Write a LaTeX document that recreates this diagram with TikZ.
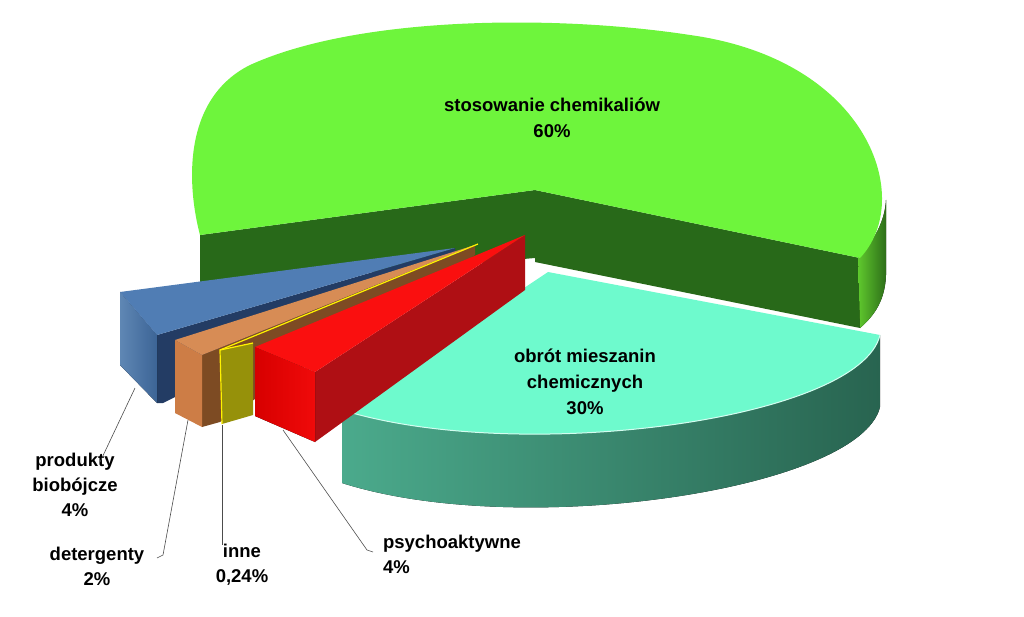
\documentclass[tikz,border=0pt]{standalone}
\usepackage{fontspec}
\setmainfont{Liberation Sans}
\definecolor{gtop}{RGB}{110,245,60}
\definecolor{gcut}{RGB}{40,105,25}
\definecolor{gside1}{RGB}{95,200,45}
\definecolor{gside2}{RGB}{45,110,25}
\definecolor{ttop}{RGB}{110,250,205}
\definecolor{tside1}{RGB}{75,170,140}
\definecolor{tside2}{RGB}{40,100,80}
\definecolor{bcut}{RGB}{35,60,100}
\definecolor{bside1}{RGB}{95,135,180}
\definecolor{bside2}{RGB}{60,100,150}
\definecolor{btop}{RGB}{80,125,180}
\definecolor{ocut}{RGB}{125,75,35}
\definecolor{oside}{RGB}{205,125,70}
\definecolor{otop}{RGB}{215,140,85}
\definecolor{yside}{RGB}{150,145,10}
\definecolor{rcut}{RGB}{175,15,20}
\definecolor{rside1}{RGB}{215,0,0}
\definecolor{rside2}{RGB}{240,10,10}
\definecolor{rtop}{RGB}{250,15,15}
\begin{document}
\begin{tikzpicture}[x=1pt,y=-1pt,
  lbl/.style={font=\bfseries\fontsize{18.5}{22}\selectfont,align=center,inner sep=0pt},
  lead/.style={draw=black!70,line width=0.6pt}]
\useasboundingbox (0,0) rectangle (1024,617);
% green slice
\fill[gcut] (200,235) -- (535,190) -- (535,258) -- (200,287) -- cycle;
\fill[gcut] (535,190) -- (860,258) -- (860,328) -- (535,262) -- cycle;
\fill[left color=gside1, right color=gside2] (858,258) .. controls (875,240) and (885,220) .. (886,200) -- (886,275) .. controls (885,300) and (875,315) .. (860,328) -- cycle;
\fill[gtop]
  (200,235) -- (535,190) -- (860,258)
  .. controls (915,200) and (870,60) .. (690,35)
  .. controls (560,15) and (360,15) .. (250,65)
  .. controls (180,100) and (188,190) .. (200,235) -- cycle;
% teal slice
\fill[left color=tside1, right color=tside2]
  (342,410) .. controls (520,465) and (860,420) .. (880,335) -- (880,407)
  .. controls (860,490) and (520,540) .. (342,483) -- cycle;
\fill[ttop]
  (548,272) -- (880,335) .. controls (860,420) and (520,465) .. (342,410) -- cycle;
\draw[white!70!ttop,line width=1pt] (880,335) .. controls (860,420) and (520,465) .. (342,410);
% blue
\fill[bcut] (157,335) -- (455,248) -- (455,258) -- (163,403) -- (157,403) -- cycle;
\fill[left color=bside1, right color=bside2] (120,292) -- (157,335) -- (157,403) -- (120,365) -- cycle;
\fill[btop] (120,292) -- (455,248) -- (157,335) -- cycle;
% orange
\fill[ocut] (202,355) -- (475,245) -- (475,255) -- (220,422) -- (202,427) -- cycle;
\fill[oside] (175,340) -- (202,355) -- (202,427) -- (175,413) -- cycle;
\fill[otop] (175,340) -- (475,245) -- (202,355) -- cycle;
% yellow (inne)
\fill[yside] (220,350) -- (253,343) -- (253,415) -- (222,424) -- cycle;
\draw[yellow,line width=1.2pt] (222,424) -- (220,350) -- (253,343);
\draw[yellow,line width=1.2pt] (220,350) -- (478,244);
% red
\fill[rcut] (315,372) -- (525,235) -- (525,290) -- (315,442) -- cycle;
\fill[left color=rside1, right color=rside2] (255,347) -- (315,372) -- (315,442) -- (255,416) -- cycle;
\fill[rtop] (255,347) -- (525,235) -- (315,372) -- cycle;
% labels
\node[lbl] (g) at (552,118) {stosowanie chemikaliów\\[4pt]60\%};
\node[lbl] (t) at (585,382) {obrót mieszanin\\[4pt]chemicznych\\[4pt]30\%};
\node[lbl] (pb) at (75,485) {produkty\\[3pt]biobójcze\\[3pt]4\%};
\node[lbl] (de) at (97,566) {detergenty\\[3pt]2\%};
\node[lbl] (in) at (242,565) {inne\\[3pt]0,24\%};
\node[lbl,align=left] (ps) at (452,554) {psychoaktywne\\[3pt]4\%};
\coordinate (cb) at (135,388); \coordinate (cb2) at (100,462);
\coordinate (cd) at (188,420); \coordinate (cd2) at (163,555); \coordinate (cd3) at (157,558);
\coordinate (ci) at (222,425); \coordinate (ci2) at (222,545);
\coordinate (cp) at (283,430); \coordinate (cp2) at (367,550); \coordinate (cp3) at (373,552);
\draw[lead] (cb) -- (cb2);
\draw[lead] (cd) -- (cd2) -- (cd3);
\draw[lead] (ci) -- (ci2);
\draw[lead] (cp) -- (cp2) -- (cp3);
\end{tikzpicture}
\end{document}
